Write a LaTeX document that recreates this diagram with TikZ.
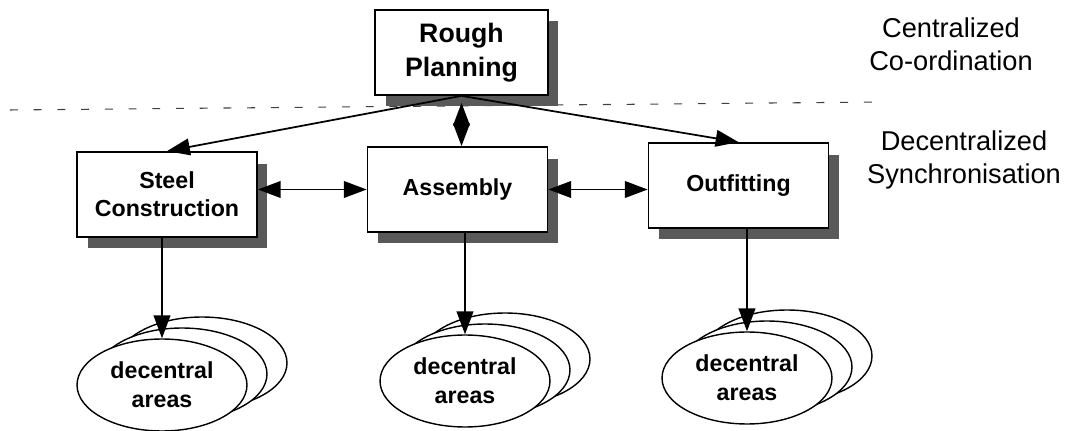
\documentclass[tikz,border=0pt]{standalone}
\usepackage{fontspec}
\setmainfont{Liberation Sans}
\usetikzlibrary{shapes.geometric, arrows.meta, shadows}

\tikzset{
  unitbox/.style={draw, line width=1pt, fill=white, minimum width=3.6cm, minimum height=1.7cm, inner sep=2pt, align=center,
    font=\fontsize{13.2}{16}\selectfont\bfseries,
    drop shadow={shadow xshift=0.21cm, shadow yshift=-0.23cm, fill=black!65, opacity=1}},
  areaell/.style={draw, ellipse, line width=0.8pt, fill=white, minimum width=3.4cm, minimum height=1.84cm, inner sep=0pt, align=center,
    font=\fontsize{13.2}{16.5}\selectfont\bfseries},
  arr/.style={-{Triangle[length=13pt, width=9.5pt]}, line width=1pt},
  dblarr/.style={{Triangle[length=13pt, width=9.5pt]}-{Triangle[length=13pt, width=9.5pt]}, line width=1pt},
  levellabel/.style={align=center, font=\fontsize{15.5}{18.8}\selectfont}
}

\begin{document}
\begin{tikzpicture}[x=0.02cm, y=-0.02cm]
  \useasboundingbox (0,0) rectangle (1070,431);

  % Border between the two levels
  \draw[black!75, line width=0.6pt, dash pattern=on 4.5pt off 9pt] (10,110) -- (880,102);

  % Level labels
  \node[levellabel] (central) at (951,44) {Centralized\\Co-ordination};
  \node[levellabel] (decentral) at (964,160) {Decentralized\\Synchronisation};

  % Planning and the three units
  \node[unitbox, minimum width=3.46cm, font=\fontsize{15.2}{19}\selectfont\bfseries] (rp) at (461.5,52.5) {Rough\\Planning};
  \node[unitbox] (steel) at (167,194.5) {Steel\\Construction};
  \node[unitbox] (assembly) at (457.5,189.5) {Assembly};
  \node[unitbox] (outfit) at (738.5,185.5) {Outfitting};

  % Decentral areas (stacked ellipses)
  \node[areaell] (steelc) at (202,363) {};
  \node[areaell] (steelb) at (182,374) {};
  \node[areaell] (steela) at (162,385) {decentral\\areas};
  \node[areaell] (assemc) at (505,359) {};
  \node[areaell] (assemb) at (485,370) {};
  \node[areaell] (assema) at (465,381) {decentral\\areas};
  \node[areaell] (outfitc) at (787,356) {};
  \node[areaell] (outfitb) at (767,367) {};
  \node[areaell] (outfita) at (747,378) {decentral\\areas};

  % Connectors
  \draw[arr] (rp.south) -- (steel.north);
  \draw[arr] (rp.south) -- (outfit.north);
  \draw[dblarr] ([yshift=-0.14cm]rp.south) -- (rp.south |- assembly.north);
  \draw[dblarr] (steel.east |- assembly.west) -- (assembly.west);
  \draw[dblarr] (assembly.east) -- (outfit.west |- assembly.east);
  \draw[arr] (steela.north |- steel.south) -- (steela.north);
  \draw[arr] (assema.north |- assembly.south) -- (assema.north);
  \draw[arr] (outfita.north |- outfit.south) -- (outfita.north);
\end{tikzpicture}
\end{document}
